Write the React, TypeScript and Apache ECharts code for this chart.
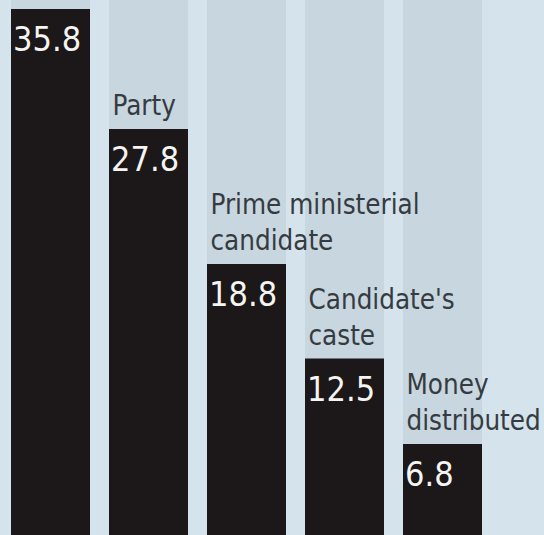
import React, { useEffect, useRef } from "react";
import * as echarts from "echarts";

const categories = [
  "Candidate",
  "Party",
  "Prime ministerial\ncandidate",
  "Candidate's\ncaste",
  "Money\ndistributed",
];
const values = [35.8, 27.8, 18.8, 12.5, 6.8];
const showCategoryLabel = [false, true, true, true, true];

const FONT = '"Liberation Sans Narrow", "DejaVu Sans Condensed", "Roboto Condensed", "Liberation Sans", sans-serif';

export default function App() {
  const ref = useRef<HTMLDivElement>(null);
  useEffect(() => {
    document.body.style.margin = "0";
    const chart = echarts.init(ref.current!, null, { renderer: "svg" });
    chart.setOption({
      animation: false,
      backgroundColor: "#d4e3ec",
      grid: { left: 1.5, right: 52.5, top: 0, bottom: 0 },
      xAxis: {
        type: "category",
        data: categories,
        show: false,
      },
      yAxis: {
        type: "value",
        min: 0,
        max: 36.4,
        show: false,
        splitLine: { show: false },
      },
      series: [
        {
          type: "bar",
          data: values,
          barWidth: 79,
          showBackground: true,
          backgroundStyle: { color: "#c8d6df" },
          itemStyle: { color: "#1c1718" },
          label: {
            show: true,
            position: "insideTopLeft",
            distance: 2,
            offset: [0, 11],
            color: "#f4f4f2",
            fontFamily: FONT,
            fontSize: 34,
            lineHeight: 34,
          },
          z: 2,
        },
        {
          type: "bar",
          data: values.map((v, i) => ({
            value: v,
            label: { show: showCategoryLabel[i] },
          })),
          barWidth: 79,
          barGap: "-100%",
          itemStyle: { color: "rgba(0,0,0,0)" },
          label: {
            show: true,
            position: "top",
            align: "left",
            verticalAlign: "bottom",
            offset: [-36, 0],
            distance: 6,
            formatter: (p: any) => categories[p.dataIndex],
            color: "#353b40",
            fontFamily: FONT,
            fontSize: 27.5,
            lineHeight: 36,
          },
          z: 3,
        },
      ],
    });
    return () => chart.dispose();
  }, []);
  return (
    <div style={{ position: "fixed", left: 0, top: 0, width: 544, height: 535, overflow: "hidden" }}>
      <div ref={ref} style={{ width: 544, height: 546 }} />
    </div>
  );
}
